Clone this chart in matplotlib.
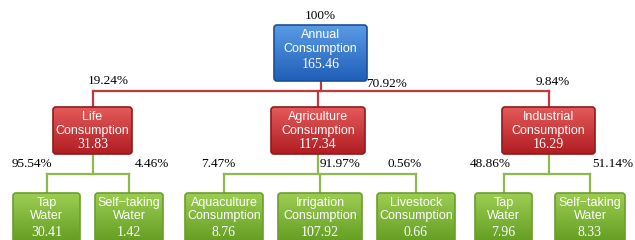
import numpy as np
import matplotlib.pyplot as plt
from matplotlib.patches import FancyBboxPatch

# level 1
top_label = "Annual\nConsumption"
top_value = 165.46
top_pct = "100%"

# level 2
mid_labels = ["Life\nConsumption", "Agriculture\nConsumption", "Industrial\nConsumption"]
mid_values = [31.83, 117.34, 16.29]
mid_pcts = ["19.24%", "70.92%", "9.84%"]

# level 3 (grouped by parent)
low_labels = [["Tap\nWater", "Self\u2212taking\nWater"],
              ["Aquaculture\nConsumption", "Irrigation\nConsumption", "Livestock\nConsumption"],
              ["Tap\nWater", "Self\u2212taking\nWater"]]
low_values = [[30.41, 1.42], [8.76, 107.92, 0.66], [7.96, 8.33]]
low_pcts = [["95.54%", "4.46%"], ["7.47%", "91.97%", "0.56%"], ["48.86%", "51.14%"]]

SANS = "Liberation Sans"
SERIF = "Liberation Serif"

fig = plt.figure(figsize=(6.35, 2.4), dpi=100)
ax = fig.add_axes([0, 0, 1, 1])
ax.set_xlim(0, 635)
ax.set_ylim(240, 0)
ax.axis("off")


def box(x0, x1, y0, y1, c_top, c_bot, edge):
    p = FancyBboxPatch((x0, y0), x1 - x0, y1 - y0, boxstyle="round,pad=0,rounding_size=3",
                       fc="none", ec=edge, lw=1.2, zorder=3)
    ax.add_patch(p)
    grad = np.linspace(0, 1, 64).reshape(-1, 1)
    ct = np.array(plt.matplotlib.colors.to_rgb(c_top))
    cb = np.array(plt.matplotlib.colors.to_rgb(c_bot))
    img = ct[None, None, :] * (1 - grad[:, :, None]) + cb[None, None, :] * grad[:, :, None]
    im = ax.imshow(img, extent=(x0, x1, y1, y0), aspect="auto", zorder=2, interpolation="bilinear")
    im.set_clip_path(p)


def box_text(xc, y_lines, label, value, size=9):
    l1, l2 = label.split("\n")
    ax.text(xc, y_lines[0], l1, ha="center", va="center", color="white", fontsize=size, family=SANS, zorder=4)
    ax.text(xc, y_lines[1], l2, ha="center", va="center", color="white", fontsize=size, family=SANS, zorder=4)
    ax.text(xc, y_lines[2], f"{value:.2f}", ha="center", va="center", color="white", fontsize=size + 1,
            family=SERIF, zorder=4)


red_line = "#c0393f"
green_line = "#8cba4c"

# top box
box(274, 367, 25, 81, "#5a9be6", "#1f5fb8", "#1c4f97")
box_text(320.5, (35, 49, 65), top_label, top_value)
ax.text(320, 16, top_pct, ha="center", va="center", fontsize=9.5, family=SERIF)

# level 2 layout
mid_x = [(53, 132), (271, 365), (502, 595)]
mid_top, mid_bot = 107, 154
mid_pct_pos = [(108, 81), (387, 84), (553, 82)]
ax.plot([320.5, 320.5], [81, 91], color=red_line, lw=1.6, zorder=1)
centers = [(a + b) / 2 for a, b in mid_x]
ax.plot([centers[0], centers[2]], [91, 91], color=red_line, lw=1.6, zorder=1)
for i, (x0, x1) in enumerate(mid_x):
    ax.plot([centers[i], centers[i]], [91, mid_top], color=red_line, lw=1.6, zorder=1)
    box(x0, x1, mid_top, mid_bot, "#e55a5a", "#b01d22", "#8e1a1d")
    box_text(centers[i], (117, 131, 145), mid_labels[i], mid_values[i])
    px, py = mid_pct_pos[i]
    ax.text(px, py, mid_pcts[i], ha="center", va="center", fontsize=9.5, family=SERIF)

# level 3 layout
low_x = [[(13, 80), (95, 163)],
         [(185, 263), (278, 362), (377, 455)],
         [(475, 532), (555, 625)]]
low_pct_x = [[32, 152], [218, 340], [405], ]
low_pct_x = [[32, 152], [218, 340, 405], [490, 613]]
low_top, low_bot = 193, 246
hy = 174
for g in range(3):
    cs = [(a + b) / 2 for a, b in low_x[g]]
    ax.plot([centers[g], centers[g]], [mid_bot, hy], color=green_line, lw=1.6, zorder=1)
    ax.plot([cs[0], cs[-1]], [hy, hy], color=green_line, lw=1.6, zorder=1)
    for j, (x0, x1) in enumerate(low_x[g]):
        ax.plot([cs[j], cs[j]], [hy, low_top], color=green_line, lw=1.6, zorder=1)
        box(x0, x1, low_top, low_bot, "#9ccd52", "#5f9a1e", "#6c9e2e")
        box_text(cs[j], (203, 216, 232), low_labels[g][j], low_values[g][j])
        ax.text(low_pct_x[g][j], 164, low_pcts[g][j], ha="center", va="center", fontsize=9.5,
                family=SERIF)

fig.savefig("out.png", dpi=100)
